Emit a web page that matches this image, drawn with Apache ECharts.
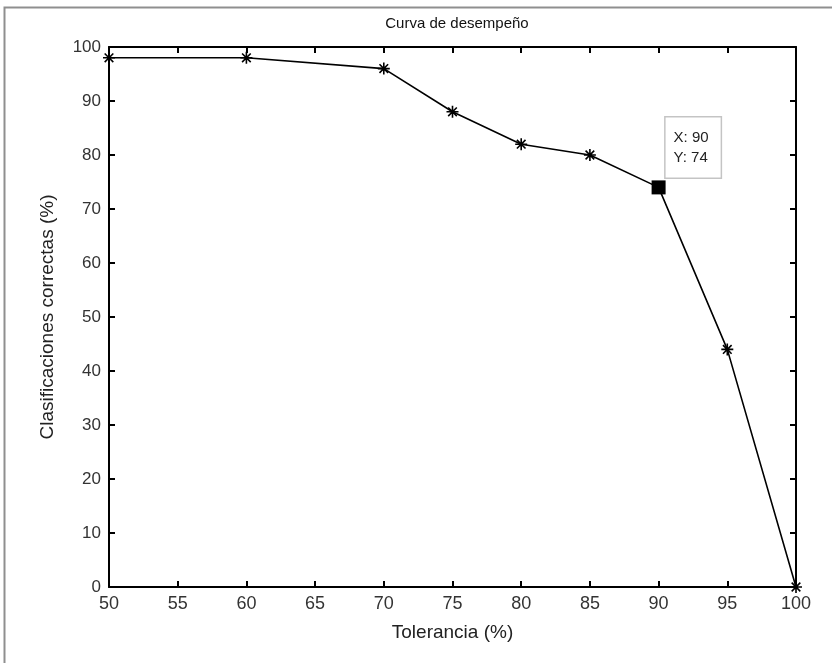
<!DOCTYPE html>
<html>
<head>
	<meta charset="utf-8">
	<title>Curva de desempeño</title>
	<style>
		body { margin: 0; background: #fff; }
		#main { width: 832px; height: 663px; }
	</style>
</head>
<body>
	<div id="main"></div>
	<script src="https://cdn.jsdelivr.net/npm/echarts@6/dist/echarts.min.js"></script>
	<script>
	// datos
	var tolerancia = [50, 60, 70, 75, 80, 85, 90, 95, 100];
	var correctas = [98, 98, 96, 88, 82, 80, 74, 44, 0];
	var tipX = 90, tipY = 74;

	var estrella = 'path://M0,-5L0,5M-5,0L5,0M-3.6,-3.6L3.6,3.6M-3.6,3.6L3.6,-3.6';
	var fuente = 'Liberation Sans';

	var puntos = [];
	for (var i = 0; i < tolerancia.length; i++) {
		if (tolerancia[i] === tipX) {
			puntos.push({
				value: [tolerancia[i], correctas[i]],
				symbol: 'rect',
				symbolSize: 14,
				itemStyle: { color: '#000', borderWidth: 0 },
				label: {
					show: true,
					position: [14, -63],
					align: 'left',
					verticalAlign: 'top',
					formatter: 'X: ' + tipX + '\nY: ' + tipY,
					fontFamily: fuente,
					fontSize: 15,
					lineHeight: 20,
					color: '#222',
					backgroundColor: '#fff',
					borderColor: '#c4c4c4',
					borderWidth: 1.5,
					padding: [10, 12, 10, 8]
				}
			});
		} else {
			puntos.push([tolerancia[i], correctas[i]]);
		}
	}

	var chart = echarts.init(document.getElementById('main'));
	var ejeX = {
		type: 'value', min: 50, max: 100, interval: 5,
		axisLine: { show: true, onZero: false, lineStyle: { color: '#000', width: 2 } },
		axisTick: { show: true, inside: true, length: 6, lineStyle: { color: '#000', width: 2 } },
		splitLine: { show: false }
	};
	var ejeY = {
		type: 'value', min: 0, max: 100, interval: 10,
		axisLine: { show: true, onZero: false, lineStyle: { color: '#000', width: 2 } },
		axisTick: { show: true, inside: true, length: 6, lineStyle: { color: '#000', width: 2 } },
		splitLine: { show: false }
	};

	var option = {
		animation: false,
		backgroundColor: '#fff',
		graphic: [{
			type: 'polyline',
			shape: { points: [[4.5, 663], [4.5, 7.5], [832, 7.5]] },
			style: { fill: 'none', stroke: '#8f8f8f', lineWidth: 2 },
			silent: true
		}],
		title: {
			text: 'Curva de desempeño',
			left: 452, top: 11, textAlign: 'center',
			textStyle: { fontFamily: fuente, fontSize: 15, fontWeight: 'normal', color: '#111' }
		},
		grid: { left: 109, right: 36, top: 47, bottom: 76, containLabel: false },
		xAxis: [
			Object.assign({}, ejeX, {
				position: 'bottom',
				name: 'Tolerancia (%)', nameLocation: 'middle', nameGap: 36,
				nameTextStyle: { fontFamily: fuente, fontSize: 19, color: '#222' },
				axisLabel: { fontFamily: fuente, fontSize: 18, color: '#333', margin: 8 }
			}),
			Object.assign({}, ejeX, { position: 'top', axisLabel: { show: false } })
		],
		yAxis: [
			Object.assign({}, ejeY, {
				position: 'left',
				name: 'Clasificaciones correctas (%)', nameLocation: 'middle', nameGap: 52,
				nameTextStyle: { fontFamily: fuente, fontSize: 19, color: '#222' },
				axisLabel: { fontFamily: fuente, fontSize: 17, color: '#333', margin: 8 }
			}),
			Object.assign({}, ejeY, { position: 'right', axisLabel: { show: false } })
		],
		series: [{
			type: 'line',
			data: puntos,
			symbol: estrella,
			symbolSize: 12,
			showAllSymbol: true,
			lineStyle: { color: '#000', width: 1.6 },
			itemStyle: { color: '#000', borderColor: '#000', borderWidth: 1.6 },
			z: 5
		}]
	};
	chart.setOption(option);
	</script>
</body>
</html>
